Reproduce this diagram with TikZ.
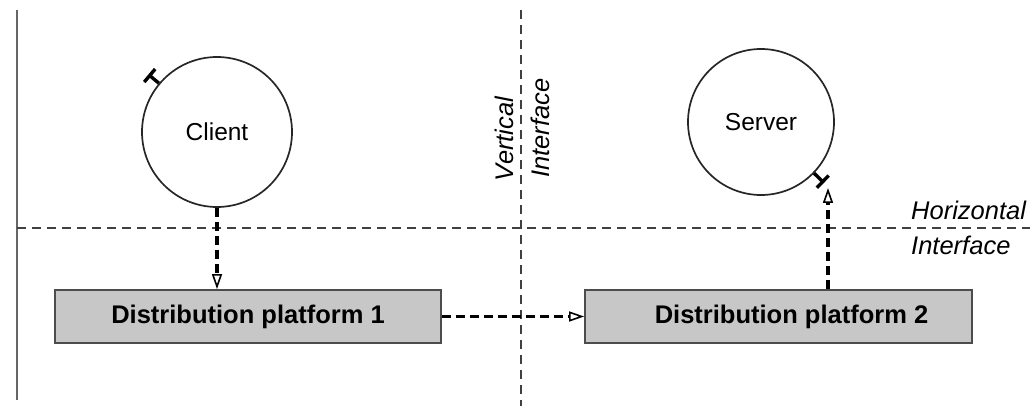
\documentclass[tikz,border=0pt]{standalone}
\usepackage{fontspec}
\setmainfont{Liberation Sans}
\usetikzlibrary{arrows.meta}
\tikzset{
  party/.style={circle, draw=black!85, line width=1.7pt, minimum size=#1, inner sep=0pt, font=\fontsize{24.5}{28}\selectfont},
  platform/.style={draw=black!70, line width=1.8pt, fill=black!22, minimum width=386pt, minimum height=53pt, inner sep=0pt, font=\bfseries\fontsize{25.5}{29}\selectfont},
  iface/.style={black!75, line width=1.5pt, dash pattern=on 9pt off 6pt},
  ilabel/.style={font=\itshape\fontsize{25.5}{29}\selectfont, inner sep=0pt},
  conn/.style={black, line width=3.2pt, dash pattern=on 9pt off 5pt,
    -{Triangle[open, length=15pt, width=10pt, line width=1.6pt, fill=white]}},
  tmark/.style={black, line width=3.4pt},
}
\begin{document}
\begin{tikzpicture}[x=1pt,y=1pt]
\useasboundingbox (0,0) rectangle (1030,-406);

% frame line on the left and the two interfaces
\draw[black!60, line width=1.4pt] (17,-10) coordinate (fl1) -- (17,-400) coordinate (fl2);
\coordinate (v1) at (521,-10);
\coordinate (v2) at (521,-406);
\coordinate (h1) at (17,-228);
\coordinate (h2) at (1030,-228);
\draw[iface] (v1) -- (v2);
\draw[iface] (h1) -- (h2);

\node[ilabel, rotate=90] (vert) at (504,-139) {Vertical};
\node[ilabel, rotate=90] (vint) at (540,-128) {Interface};
\node[ilabel, anchor=west] (hor) at (911,-210) {Horizontal};
\node[ilabel, anchor=west] (hint) at (911,-245) {Interface};

% parties
\node[party=150pt] (client) at (217,-132) {Client};
\node[party=146pt] (server) at (761,-122) {Server};

% platforms
\node[platform] (p1) at (248,-316.5) {Distribution platform 1};
\node[platform, minimum width=387pt] (p2) at (778.5,-316.5) {\hspace*{26pt}Distribution platform 2};

% interface marks on the parties
\draw[tmark] (client.140) -- ++(140:12) coordinate (ct);
\draw[tmark] (ct) ++(50:8.5) -- ++(230:17);
\draw[tmark] (server.-44) -- ++(-44:12) coordinate (st);
\draw[tmark] (st) ++(46:8.5) -- ++(226:17);

% connectors
\draw[conn] (client.south) -- (client.south |- p1.north);
\draw[conn] (p1.east) -- (p2.west);
\coordinate (stip) at (828,-188);
\draw[conn] (stip |- p2.north) -- (stip);
\end{tikzpicture}
\end{document}
